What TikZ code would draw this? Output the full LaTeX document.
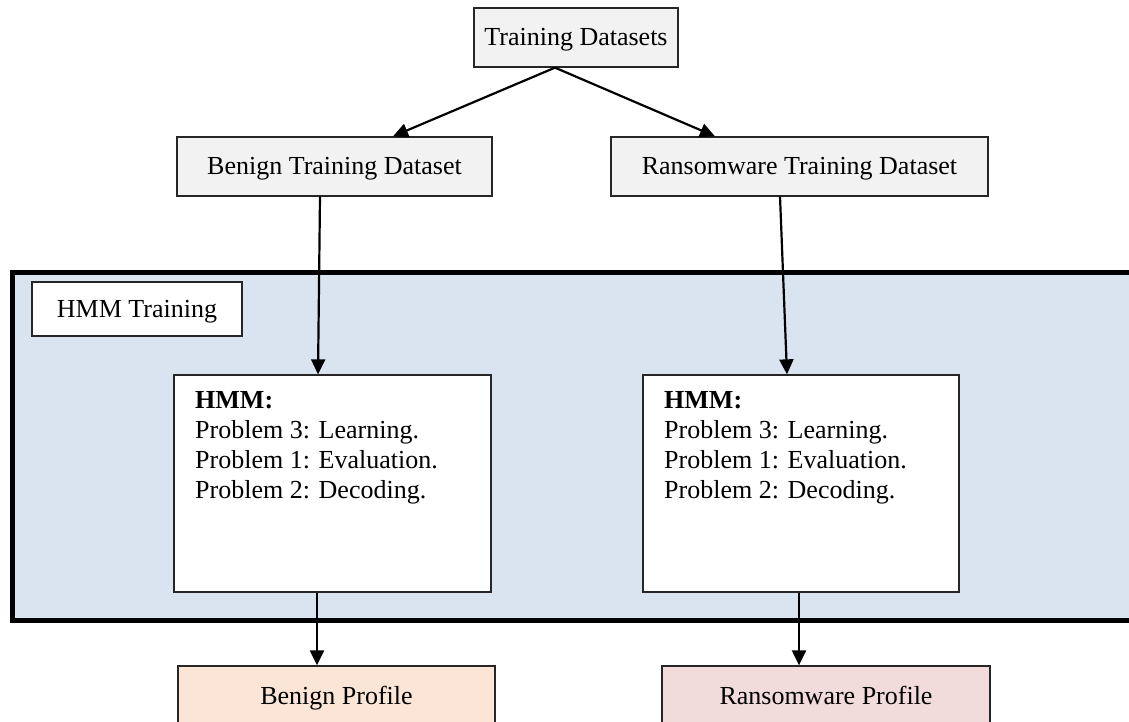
\documentclass[tikz,border=0pt]{standalone}
\usepackage{fontspec}
\setmainfont{Liberation Serif}
\usetikzlibrary{arrows.meta}
\definecolor{boxgray}{HTML}{F2F2F2}
\definecolor{hmmblue}{HTML}{DAE3F0}
\definecolor{benignfill}{HTML}{FBE5D6}
\definecolor{ransomfill}{HTML}{F2DCDB}
\tikzset{
  box/.style={draw=black!85, line width=1.3pt, inner sep=0pt, text height=20pt, text depth=3pt, font=\fontsize{26}{30}\selectfont},
  conn/.style={line width=2.2pt, -{Triangle[length=15pt,width=14pt]}},
  hmmtext/.style={inner sep=0pt, anchor=north west, align=left, font=\fontsize{26}{30}\selectfont}
}
\begin{document}
\begin{tikzpicture}[x=1pt,y=-1pt]
\useasboundingbox (0,0) rectangle (1129,722);
\clip (0,0) rectangle (1129,722);
% HMM training region
\node[draw=black, fill=hmmblue, line width=5pt, minimum width=1140pt, minimum height=348pt, inner sep=0pt, anchor=north west] (region) at (10,270) {};
\node[box, fill=white, minimum width=210pt, minimum height=54pt] (hmmtr) at (137,309) {HMM Training};
% top boxes
\node[box, fill=boxgray, minimum width=204pt, minimum height=59pt] (td) at (576,37.5) {Training Datasets};
\node[box, fill=boxgray, minimum width=315pt, minimum height=59pt] (btd) at (334.5,166.5) {Benign Training Dataset};
\node[box, fill=boxgray, minimum width=377pt, minimum height=59pt] (rtd) at (799.5,166.5) {Ransomware Training Dataset};
% HMM boxes
\node[box, fill=white, minimum width=317pt, minimum height=217pt] (hmml) at (332.5,483.5) {};
\node[box, fill=white, minimum width=316pt, minimum height=217pt] (hmmr) at (801,483.5) {};
\node[hmmtext] (hmmltext) at (195,391) {\textbf{HMM:}\\Problem 3: Learning.\\Problem 1: Evaluation.\\Problem 2: Decoding.};
\node[hmmtext] (hmmrtext) at (664,391) {\textbf{HMM:}\\Problem 3: Learning.\\Problem 1: Evaluation.\\Problem 2: Decoding.};
% profiles
\node[box, fill=benignfill, minimum width=317pt, minimum height=59pt] (bp) at (336.5,695.5) {Benign Profile};
\node[box, fill=ransomfill, minimum width=328pt, minimum height=59pt] (rp) at (826,695.5) {Ransomware Profile};
% connectors
\draw[conn] ([xshift=-21pt]td.south) -- ([xshift=58.5pt]btd.north);
\draw[conn] ([xshift=-21pt]td.south) -- ([xshift=-84.5pt]rtd.north);
\draw[conn] ([xshift=-14.5pt]btd.south) -- ([xshift=-14.5pt]hmml.north);
\draw[conn] ([xshift=-19.5pt]rtd.south) -- ([xshift=-14pt]hmmr.north);
\draw[conn] ([xshift=-15.5pt]hmml.south) -- ([xshift=-19.5pt]bp.north);
\draw[conn] ([xshift=-2pt]hmmr.south) -- ([xshift=-27pt]rp.north);
\end{tikzpicture}
\end{document}
